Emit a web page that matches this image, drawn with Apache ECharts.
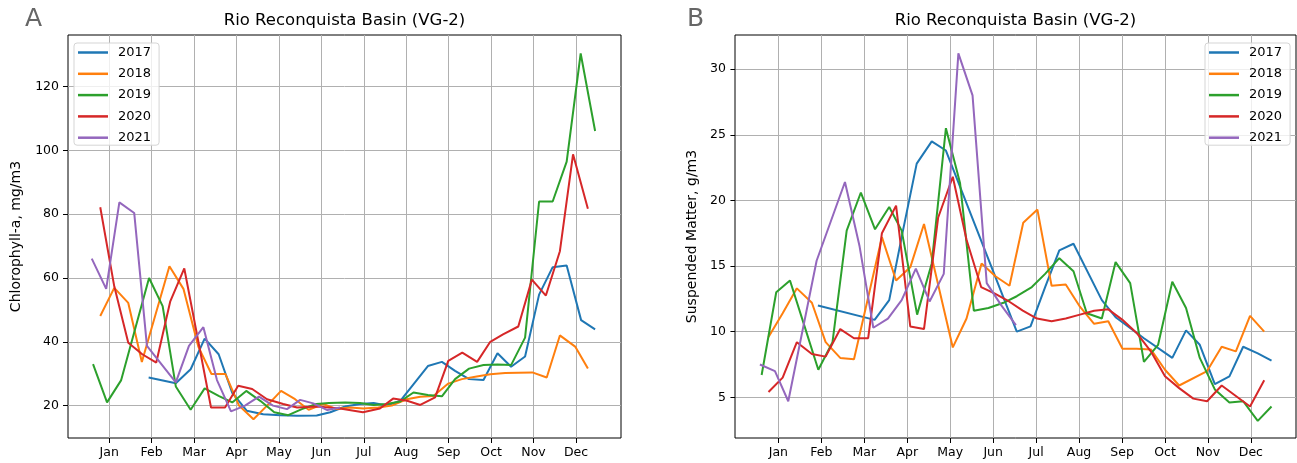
<!DOCTYPE html>
<html>
<head>
<meta charset="utf-8">
<script src="https://cdn.jsdelivr.net/npm/echarts@6/dist/echarts.min.js"></script>
<style>
  html, body { margin: 0; padding: 0; background: #fff; }
  #chart { width: 1297px; height: 463px; }
</style>
</head>
<body>
<div id="chart"></div>
<script>
// x values are in month units: 1 = Jan tick, 12 = Dec tick
const months = ['Jan', 'Feb', 'Mar', 'Apr', 'May', 'Jun', 'Jul', 'Aug', 'Sep', 'Oct', 'Nov', 'Dec'];
const monthTicks = [1, 2, 3, 4, 5, 6, 7, 8, 9, 10, 11, 12];
const chlTicks = [20, 40, 60, 80, 100, 120];
const tsmTicks = [5, 10, 15, 20, 25, 30];
const years = ['2017', '2018', '2019', '2020', '2021'];
const colors = ['#1f77b4', '#ff7f0e', '#2ca02c', '#d62728', '#9467bd'];

// panel A - chlorophyll-a, mg/m3
const chl2017 = [[1.93,28.8],[2.57,27],[2.92,31.4],[3.25,41],[3.58,36.1],[3.90,24],[4.24,18.4],[4.63,17.3],[5.03,17],[5.43,16.8],[5.89,16.9],[6.21,17.9],[6.56,19.7],[6.91,20.5],[7.23,20.8],[7.54,20],[7.86,21.5],[8.51,32.4],[8.84,33.7],[9.15,30.9],[9.48,28.3],[9.82,28],[10.15,36.4],[10.47,32.2],[10.80,35.4],[11.13,54.8],[11.45,63.4],[11.78,63.9],[12.12,46.8],[12.45,43.9]];
const chl2018 = [[0.79,48.1],[1.12,56.9],[1.45,52.2],[1.77,33.7],[2.42,63.7],[2.75,56.6],[3.10,38.5],[3.41,29.9],[3.74,29.9],[4.06,20],[4.40,15.7],[4.72,20],[5.05,24.6],[5.38,22],[5.70,18.7],[6.04,20.5],[6.36,18.9],[6.68,19.4],[6.99,19.1],[7.34,19.4],[7.66,20],[8.01,22],[8.33,22.8],[8.64,23],[8.99,26.9],[9.31,28.3],[9.66,29.1],[9.98,29.8],[10.33,30.2],[10.64,30.3],[10.97,30.4],[11.31,28.8],[11.62,42],[11.98,38.5],[12.28,31.6]];
const chl2019 = [[0.62,33],[0.95,21],[1.28,27.9],[1.94,60],[2.26,51.2],[2.57,26],[2.92,18.7],[3.25,25.4],[3.59,23],[3.90,21],[4.23,24.6],[4.56,21.5],[4.89,17.9],[5.22,17],[5.54,18.9],[5.88,20.5],[6.18,20.8],[6.56,21],[6.91,20.8],[7.23,20.2],[7.54,20.5],[7.86,21.3],[8.17,24.1],[8.51,23.3],[8.84,22.9],[9.15,28.3],[9.48,31.6],[9.82,32.7],[10.15,32.9],[10.47,32.7],[10.80,41.3],[11.13,84],[11.45,84],[11.78,96.5],[12.11,130.4],[12.45,106.1]];
const chl2020 = [[0.79,82.2],[1.12,57.4],[1.45,39.7],[1.78,36.1],[2.11,33.5],[2.44,52.7],[2.77,63],[3.40,19.4],[3.73,19.4],[4.04,26.2],[4.37,25.2],[4.72,22],[5.10,20.5],[5.43,19.4],[5.90,19.7],[6.44,19.1],[6.98,17.9],[7.38,19.1],[7.69,22.2],[8.02,21.5],[8.33,20.2],[8.68,22.6],[8.99,34],[9.32,36.6],[9.67,33.7],[9.98,40],[10.28,42.3],[10.64,44.8],[10.96,59.5],[11.29,54.5],[11.62,68.4],[11.93,98.8],[12.28,81.7]];
const chl2021 = [[0.59,66.1],[0.93,56.6],[1.24,83.7],[1.59,80.4],[1.89,38.7],[2.57,27.3],[2.88,38.7],[3.22,44.6],[3.54,28],[3.87,18.2],[4.20,20],[4.53,22.8],[4.86,20],[5.19,18.9],[5.50,21.8],[5.81,20.7],[6.14,18.6],[6.44,19.4]];

// panel B - suspended matter, g/m3
const tsm2017 = [[1.92,12.0],[3.24,10.9],[3.58,12.4],[3.90,17.7],[4.22,22.8],[4.57,24.5],[4.90,23.8],[6.55,10.0],[6.87,10.4],[7.21,13.4],[7.54,16.2],[7.87,16.7],[8.53,12.4],[8.85,11.1],[9.51,9.5],[10.17,8.0],[10.49,10.1],[10.81,9.0],[11.16,6.0],[11.50,6.6],[11.82,8.85],[12.16,8.35],[12.48,7.8]];
const tsm2018 = [[0.77,9.6],[1.10,11.4],[1.43,13.3],[1.78,12.2],[2.10,9.2],[2.44,8.0],[2.76,7.9],[3.41,17.2],[3.74,13.9],[4.07,14.9],[4.39,18.2],[5.06,8.8],[5.38,11.0],[5.73,15.2],[6.06,14.2],[6.38,13.5],[6.70,18.3],[7.03,19.3],[7.36,13.5],[7.69,13.6],[8.02,11.9],[8.35,10.6],[8.68,10.8],[9.01,8.7],[9.34,8.7],[9.67,8.65],[10.00,7.1],[10.33,5.9],[10.98,7.0],[11.32,8.85],[11.65,8.5],[11.98,11.2],[12.31,10.0]];
const tsm2019 = [[0.61,6.7],[0.95,13.0],[1.27,13.9],[1.61,10.4],[1.93,7.1],[2.26,9.2],[2.59,17.7],[2.92,20.6],[3.25,17.8],[3.58,19.5],[3.87,17.7],[4.23,11.3],[4.57,15.2],[4.90,25.5],[5.23,21.3],[5.55,11.6],[5.89,11.8],[6.24,12.2],[6.55,12.7],[6.90,13.4],[7.21,14.4],[7.54,15.6],[7.87,14.6],[8.18,11.4],[8.53,11.0],[8.85,15.3],[9.19,13.7],[9.51,7.7],[9.84,9.0],[10.17,13.8],[10.49,11.8],[10.81,8.0],[11.16,5.6],[11.50,4.6],[11.82,4.7],[12.16,3.2],[12.48,4.3]];
const tsm2020 = [[0.77,5.4],[1.10,6.5],[1.43,9.2],[1.78,8.3],[2.10,8.1],[2.44,10.2],[2.76,9.5],[3.09,9.5],[3.41,17.5],[3.74,19.6],[4.07,10.4],[4.39,10.2],[4.72,18.7],[5.06,21.8],[5.38,17.0],[5.72,13.4],[6.04,12.9],[6.37,12.3],[6.69,11.6],[7.02,11.0],[7.36,10.8],[7.69,11.0],[8.02,11.3],[8.35,11.6],[8.68,11.7],[9.01,10.9],[9.34,9.9],[9.67,8.5],[10.00,6.6],[10.33,5.7],[10.66,4.9],[10.98,4.7],[11.32,5.9],[11.65,5.1],[11.98,4.3],[12.31,6.3]];
const tsm2021 = [[0.57,7.5],[0.92,7.0],[1.23,4.7],[1.89,15.4],[2.55,21.4],[2.89,16.5],[3.21,10.3],[3.55,11.0],[3.87,12.4],[4.20,14.8],[4.52,12.3],[4.85,14.4],[5.19,31.2],[5.52,28.0],[5.85,13.7],[6.19,12.0],[6.53,10.5]];

const chlSeries = [chl2017, chl2018, chl2019, chl2020, chl2021];
const tsmSeries = [tsm2017, tsm2018, tsm2019, tsm2020, tsm2021];

const font = 'DejaVu Sans';
const gridLine = { show: true, lineStyle: { color: '#b0b0b0', width: 1 } };

function xAxis(idx, min, max) {
    return {
        type: 'value', gridIndex: idx, min: min, max: max,
        axisLine: { show: false },
        axisTick: { show: true, customValues: monthTicks, length: 5, lineStyle: { color: '#000' } },
        axisLabel: {
            customValues: monthTicks, margin: 8, color: '#000', fontFamily: font, fontSize: 12.5,
            formatter: v => months[Math.round(v) - 1]
        },
        splitLine: gridLine
    };
}

function yAxis(idx, min, max, ticks, name, gap) {
    return {
        type: 'value', gridIndex: idx, min: min, max: max,
        name: name, nameLocation: 'middle', nameGap: gap,
        nameTextStyle: { color: '#000', fontFamily: font, fontSize: 14 },
        axisLine: { show: false },
        axisTick: { show: true, customValues: ticks, length: 5, lineStyle: { color: '#000' } },
        axisLabel: { customValues: ticks, margin: 9, color: '#000', fontFamily: font, fontSize: 12.5 },
        splitLine: gridLine
    };
}

function legend(pos) {
    return Object.assign({
        orient: 'vertical', data: years, icon: 'rect', itemWidth: 30, itemHeight: 2.5, itemGap: 6.3,
        padding: [2, 8, 0, 4], borderColor: '#d5d5d5', borderWidth: 1, borderRadius: 3,
        backgroundColor: 'rgba(255,255,255,0.8)',
        textStyle: { color: '#000', fontFamily: font, fontSize: 13, padding: [0, 0, 0, 5], lineHeight: 15 }
    }, pos);
}

const series = [];
years.forEach((y, i) => {
    series.push({ name: y, type: 'line', xAxisIndex: 0, yAxisIndex: 0, data: chlSeries[i],
        symbol: 'none', lineStyle: { width: 2, color: colors[i] }, itemStyle: { color: colors[i] }, z: 3 });
});
years.forEach((y, i) => {
    series.push({ name: y, type: 'line', xAxisIndex: 1, yAxisIndex: 1, data: tsmSeries[i],
        symbol: 'none', lineStyle: { width: 2, color: colors[i] }, itemStyle: { color: colors[i] }, z: 3 });
});

const titleStyle = { fontFamily: font, fontSize: 16.5, fontWeight: 'normal', color: '#000' };
const chart = echarts.init(document.getElementById('chart'), null, { renderer: 'canvas' });
chart.setOption({
    animation: false,
    backgroundColor: '#fff',
    title: [
        { text: 'Rio Reconquista Basin (VG-2)', left: 344.5, top: 12, padding: 0, textAlign: 'center', textStyle: titleStyle },
        { text: 'Rio Reconquista Basin (VG-2)', left: 1015.5, top: 12, padding: 0, textAlign: 'center', textStyle: titleStyle },
        { text: 'A', left: 25, top: 7, padding: 0, textStyle: { fontFamily: font, fontSize: 25, fontWeight: 'normal', color: '#666' } },
        { text: 'B', left: 687, top: 7, padding: 0, textStyle: { fontFamily: font, fontSize: 25, fontWeight: 'normal', color: '#666' } }
    ],
    legend: [
        legend({ left: 74, top: 43 }),
        legend({ left: 1205, top: 43 })
    ],
    grid: [
        { left: 68, top: 35, width: 553, height: 403, show: true, borderColor: '#000', borderWidth: 1 },
        { left: 735, top: 35, width: 561, height: 403, show: true, borderColor: '#000', borderWidth: 1 }
    ],
    xAxis: [xAxis(0, 0.03, 13.06), xAxis(1, -0.01, 13.05)],
    yAxis: [
        yAxis(0, 9.84, 136.2, chlTicks, 'Chlorophyll-a, mg/m3', 45),
        yAxis(1, 1.9, 32.6, tsmTicks, 'Suspended Matter, g/m3', 36)
    ],
    series: series
});
</script>
</body>
</html>
